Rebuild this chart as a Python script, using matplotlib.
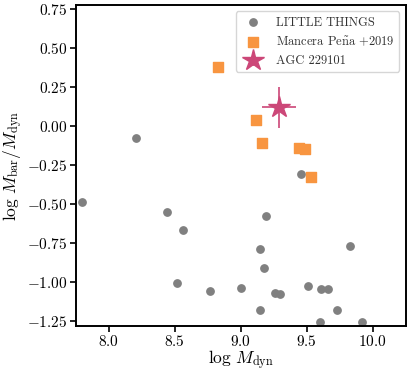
import numpy as np
import matplotlib.pyplot as plt
from matplotlib.ticker import FuncFormatter

plt.rcParams['mathtext.fontset'] = 'cm'
plt.rcParams['font.family'] = ['cmr10', 'DejaVu Serif']
plt.rcParams['axes.formatter.use_mathtext'] = True

# LITTLE THINGS
lt_x = [8.21, 9.46, 7.80, 8.44, 8.56, 9.19, 9.83, 9.15, 9.18, 8.52, 8.77,
        9.00, 9.26, 9.30, 9.51, 9.61, 9.66, 9.15, 9.73, 9.60, 9.92]
lt_y = [-0.08, -0.31, -0.49, -0.55, -0.67, -0.58, -0.77, -0.79, -0.91, -1.01, -1.06,
        -1.04, -1.07, -1.08, -1.03, -1.05, -1.05, -1.18, -1.18, -1.26, -1.26]
# Mancera Pena +2019
mp_x = [8.83, 9.12, 9.16, 9.44, 9.49, 9.53]
mp_y = [0.38, 0.04, -0.11, -0.14, -0.145, -0.33]
# AGC 229101
agc_x = 9.29
agc_y = 0.12
agc_xerr = 0.13
agc_yerr = 0.13

fig = plt.figure(figsize=(4.11, 3.71), dpi=100)
ax = fig.add_axes([0.184, 0.12, 0.803, 0.866])

ax.scatter(lt_x, lt_y, s=28, c='grey', label='LITTLE THINGS', zorder=2)
ax.scatter(mp_x, mp_y, s=45, marker='s', c='#f89540', label=r'Mancera Pe$\tilde{\rm n}$a +2019', zorder=2)
ax.errorbar(agc_x, agc_y, xerr=agc_xerr, yerr=agc_yerr, fmt='*', ms=16,
            color='#cc4778', ecolor='#cc4778', elinewidth=1.2,
            label='AGC 229101', zorder=3)

ax.set_xlim(7.75, 10.25)
ax.set_ylim(-1.288, 0.776)
ax.set_xticks([8.0, 8.5, 9.0, 9.5, 10.0])
ax.set_yticks(np.arange(-1.25, 0.76, 0.25))
ax.xaxis.set_major_formatter(FuncFormatter(lambda v, p: r'$\mathbf{%.1f}$' % v))
ax.yaxis.set_major_formatter(FuncFormatter(lambda v, p: r'$\mathbf{%.2f}$' % v))
ax.tick_params(labelsize=11, width=1.2, length=4, pad=2)
ax.tick_params(axis='x', pad=1.5)
for s in ax.spines.values():
    s.set_linewidth(1.4)

ax.set_xlabel(r'$\log\,M_{\rm dyn}$', fontsize=12.5, labelpad=-1)
ax.set_ylabel(r'$\log\,M_{\rm bar}/M_{\rm dyn}$', fontsize=12.5, labelpad=1)

leg = ax.legend(loc='upper right', fontsize=9, borderaxespad=0.5)
for t in leg.get_texts():
    t.set_color('#333333')

plt.savefig('out.png', dpi=100)
